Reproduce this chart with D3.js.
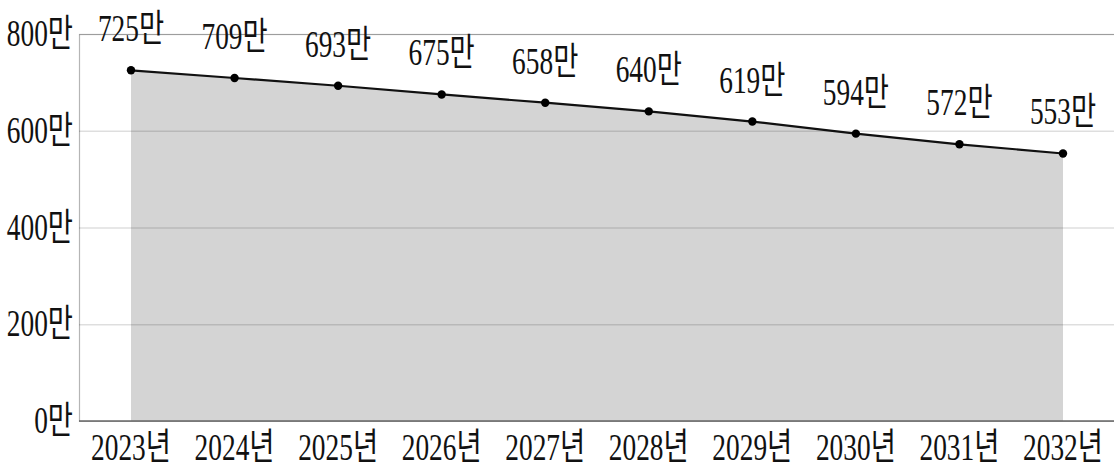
<!DOCTYPE html>
<html><head><meta charset="utf-8">
<script src="https://cdn.jsdelivr.net/npm/d3@7/dist/d3.min.js"></script>
<style>
html,body{margin:0;padding:0;background:#fff;}
svg{display:block;}
text{font-family:"Liberation Serif","Noto Sans CJK KR",serif;fill:#111;}
</style></head>
<body><svg id="c" width="1114" height="471"></svg>
<script>
const years = ["2023년","2024년","2025년","2026년","2027년","2028년","2029년","2030년","2031년","2032년"];
const values = [725,709,693,675,658,640,619,594,572,553];
const yTicks = [0,200,400,600,800];
const unit = "만";

const W = 1114, H = 471;
const svg = d3.select("#c");
const x = d3.scalePoint().domain(years).range([131,1063]);
const y = d3.scaleLinear().domain([0,800]).range([421,34]);
const SX = 0.72, FS = 38;
const data = years.map((yr,i)=>({yr, v: values[i]}));

// area
svg.append("path").datum(data)
  .attr("d", d3.area().x(d=>x(d.yr)).y0(y(0)).y1(d=>y(d.v)))
  .attr("fill","#d4d4d4");

// gridlines
const yAxis = d3.axisLeft(y).tickValues(yTicks).tickSize(-(W-79)).tickFormat("");
const gy = svg.append("g").attr("transform","translate(79,0)").call(yAxis);
gy.select(".domain").attr("stroke","#b5b5b5").attr("stroke-width",1.2);
gy.selectAll(".tick line").attr("stroke","#000").attr("stroke-opacity",0.13).attr("stroke-width",1.5);
gy.selectAll(".tick").filter(d=>d===0).select("line").remove();

// y tick labels
svg.append("g").selectAll("text").data(yTicks).join("text")
  .attr("transform", d=>`translate(73,${y(d)+12}) scale(${SX},1)`)
  .attr("text-anchor","end").attr("font-size",FS)
  .text(d=>d+unit);

// x axis
const xAxis = d3.axisBottom(x).tickSize(0).tickFormat("");
const gx = svg.append("g").attr("transform",`translate(0,${y(0)})`).call(xAxis);
gx.select(".domain").attr("d",`M79,0H${W}`).attr("stroke","#666").attr("stroke-width",1.5);
svg.append("g").selectAll("text").data(years).join("text")
  .attr("transform", d=>`translate(${x(d)},${y(0)+39}) scale(0.74,1)`)
  .attr("text-anchor","middle").attr("font-size",37)
  .text(d=>d);

// line
svg.append("path").datum(data)
  .attr("d", d3.line().x(d=>x(d.yr)).y(d=>y(d.v)))
  .attr("fill","none").attr("stroke","#111").attr("stroke-width",2.2);

// dots
svg.append("g").selectAll("circle").data(data).join("circle")
  .attr("cx",d=>x(d.yr)).attr("cy",d=>y(d.v)).attr("r",4.2).attr("fill","#000");

// value labels
svg.append("g").selectAll("text").data(data).join("text")
  .attr("transform", d=>`translate(${x(d.yr)},${y(d.v)-29}) scale(${SX},1)`)
  .attr("text-anchor","middle").attr("font-size",FS)
  .text(d=>d.v+unit);
</script></body></html>
